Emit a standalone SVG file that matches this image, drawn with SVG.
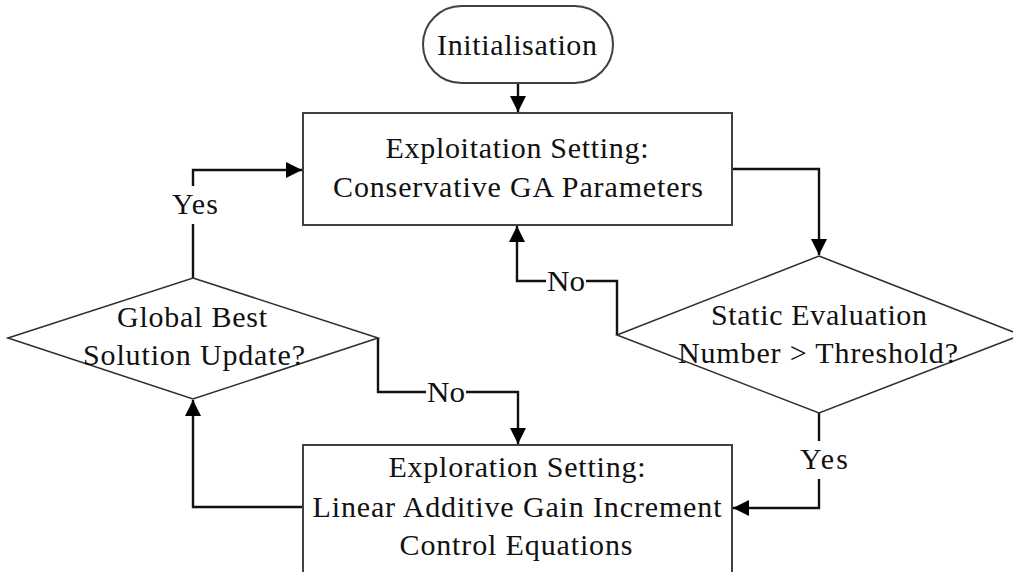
<svg xmlns="http://www.w3.org/2000/svg" width="1013" height="572" viewBox="0 0 1013 572">
<style>
.shape{fill:#fff;stroke:#404040;stroke-width:2}
.dia{fill:#fff;stroke:#303030;stroke-width:1.6}
.t{font-family:"Liberation Serif","Times New Roman",serif;font-size:30px;fill:#111;text-anchor:middle}
.conn{fill:none;stroke:#111;stroke-width:2.4}
.lbg{fill:#fff;stroke:none}
</style>
<defs>
<marker id="arr" viewBox="0 0 16 16" refX="16" refY="8" markerWidth="16" markerHeight="16" markerUnits="userSpaceOnUse" orient="auto">
<path d="M0,0 L16,8 L0,16 z" fill="#000"/>
</marker>
</defs>
<g id="connectors">
<path class="conn" d="M518,83 V112" marker-end="url(#arr)"/>
<path class="conn" d="M732,169 H819 V255" marker-end="url(#arr)"/>
<path class="conn" d="M617,335 V281 H517 V226" marker-end="url(#arr)"/>
<path class="conn" d="M819,413 V508 H733" marker-end="url(#arr)"/>
<path class="conn" d="M303,507 H193 V400" marker-end="url(#arr)"/>
<path class="conn" d="M193,278 V170 H302" marker-end="url(#arr)"/>
<path class="conn" d="M378,338 V392 H518 V444" marker-end="url(#arr)"/>
<rect class="lbg" x="546" y="270" width="40" height="24"/>
<text class="t" x="566" y="291" textLength="38" lengthAdjust="spacingAndGlyphs">No</text>
<rect class="lbg" x="426" y="381" width="40" height="24"/>
<text class="t" x="446" y="402" textLength="38" lengthAdjust="spacingAndGlyphs">No</text>
<rect class="lbg" x="170" y="186" width="50" height="38"/>
<text class="t" x="195" y="214" textLength="46">Yes</text>
<rect class="lbg" x="798" y="441" width="52" height="38"/>
<text class="t" x="824" y="469" textLength="48">Yes</text>
</g>
<g id="init">
<rect class="shape" x="423" y="6" width="190" height="77" rx="38.5"/>
<text class="t" x="517" y="55" textLength="160">Initialisation</text>
</g>
<g id="exploitation">
<rect class="shape" x="303" y="113" width="429" height="112"/>
<text class="t" x="517" y="158" textLength="263">Exploitation Setting:</text>
<text class="t" x="518" y="197" textLength="370">Conservative GA Parameters</text>
</g>
<g id="static-eval">
<polygon class="dia" points="819,256 1021,335 819,413 617,335"/>
<text class="t" x="819" y="325" textLength="216">Static Evaluation</text>
<text class="t" x="818" y="363" textLength="280">Number &gt; Threshold?</text>
</g>
<g id="global-best">
<polygon class="dia" points="193,278 378,338 193,399 8,338"/>
<text class="t" x="192" y="327" textLength="150">Global Best</text>
<text class="t" x="194" y="365" textLength="222">Solution Update?</text>
</g>
<g id="exploration">
<rect class="shape" x="303" y="445" width="429" height="140"/>
<text class="t" x="517" y="477" textLength="257">Exploration Setting:</text>
<text class="t" x="517" y="517" textLength="409">Linear Additive Gain Increment</text>
<text class="t" x="516" y="555" textLength="233">Control Equations</text>
</g>
</svg>
